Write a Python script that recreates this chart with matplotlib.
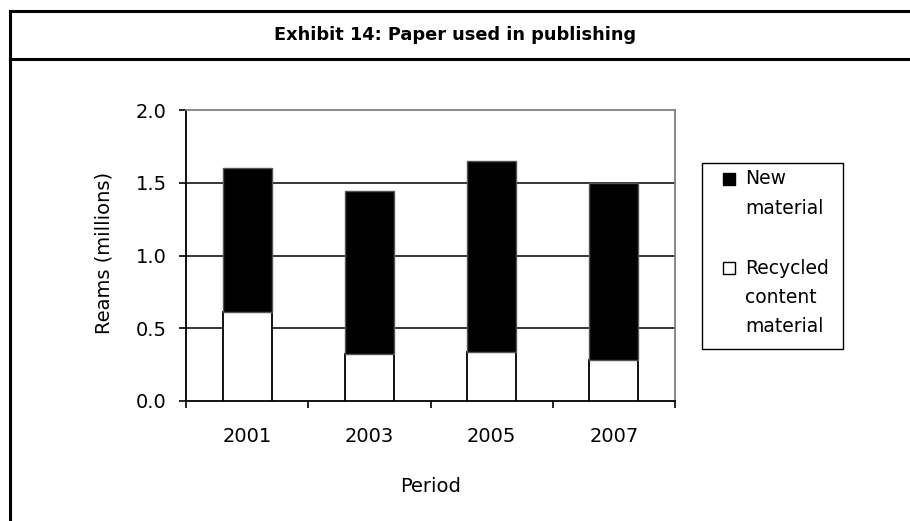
import matplotlib
matplotlib.use("Agg")
import matplotlib.pyplot as plt
from matplotlib.patches import Rectangle
from matplotlib.lines import Line2D

# Reams of paper (millions) by period
periods = ["2001", "2003", "2005", "2007"]
recycled_content = [0.61, 0.32, 0.34, 0.28]
new_material = [0.99, 1.12, 1.31, 1.22]
y_ticks = [0.0, 0.5, 1.0, 1.5, 2.0]

title = "Exhibit 14: Paper used in publishing"
legend_new = ["New", "material"]
legend_recycled = ["Recycled", "content", "material"]

W, H = 910, 521
plt.rcParams["font.family"] = "DejaVu Sans"


def fx(px):
    return px / W


def fy(py):
    return 1 - py / H


fig = plt.figure(figsize=(W / 100, H / 100), dpi=100)
fig.patch.set_facecolor("white")

# outer frame and title band
for x0, y0, x1, y1 in [(10, 11, W, 11), (10, 59, W, 59), (10, 11, 10, H)]:
    fig.add_artist(Line2D([fx(x0), fx(x1)], [fy(y0), fy(y1)],
                          transform=fig.transFigure, color="black", lw=2.2))
fig.text(fx(455), fy(35), title, ha="center", va="center",
         fontsize=12.8, fontweight="bold")

ax = fig.add_axes([fx(186), fy(401), fx(675) - fx(186), fy(110) - fy(401)])
x = list(range(len(periods)))
ax.bar(x, recycled_content, width=0.4, color="white", edgecolor="black",
       linewidth=1.3, zorder=3)
ax.bar(x, new_material, width=0.4, bottom=recycled_content, color="black",
       edgecolor="#555555", linewidth=1.0, zorder=3)

ax.set_xlim(-0.5, len(periods) - 0.5)
ax.set_ylim(y_ticks[0], y_ticks[-1])
ax.set_yticks(y_ticks)
ax.set_yticklabels([f"{v:.1f}" for v in y_ticks])
for v in y_ticks[1:-1]:
    ax.axhline(v, color="black", lw=1.1, zorder=1)

ax.set_xticks(x)
ax.set_xticklabels(periods)
ax.set_xticks([i - 0.5 for i in range(len(periods) + 1)], minor=True)
ax.tick_params(axis="x", which="major", length=0, pad=19, labelsize=14)
ax.tick_params(axis="x", which="minor", length=5, width=1.2, direction="out")
ax.tick_params(axis="y", length=5, width=1.2, pad=9, labelsize=14)

for side in ["left", "bottom"]:
    ax.spines[side].set_color("black")
    ax.spines[side].set_linewidth(1.3)
for side in ["top", "right"]:
    ax.spines[side].set_color("#808080")
    ax.spines[side].set_linewidth(1.3)

fig.text(fx(104), fy(253), "Reams (millions)", rotation=90,
         ha="center", va="center", fontsize=14)
fig.text(fx(430.5), fy(487), "Period", ha="center", va="center", fontsize=14)

# legend box
fig.add_artist(Rectangle((fx(702), fy(349)), fx(843) - fx(702), fy(163) - fy(349),
                         transform=fig.transFigure, fill=False,
                         edgecolor="black", lw=1.0))
line_h = 29.5
for label_lines, face, top in [(legend_new, "black", 179), (legend_recycled, "white", 268)]:
    fig.add_artist(Rectangle((fx(723), fy(top + 6)), fx(735) - fx(723), fy(top - 6) - fy(top + 6),
                             transform=fig.transFigure, facecolor=face,
                             edgecolor="black", lw=1.0))
    for i, s in enumerate(label_lines):
        fig.text(fx(745), fy(top + i * line_h), s, ha="left", va="center",
                 fontsize=13.5)

fig.savefig("out.png", dpi=100, facecolor="white")
